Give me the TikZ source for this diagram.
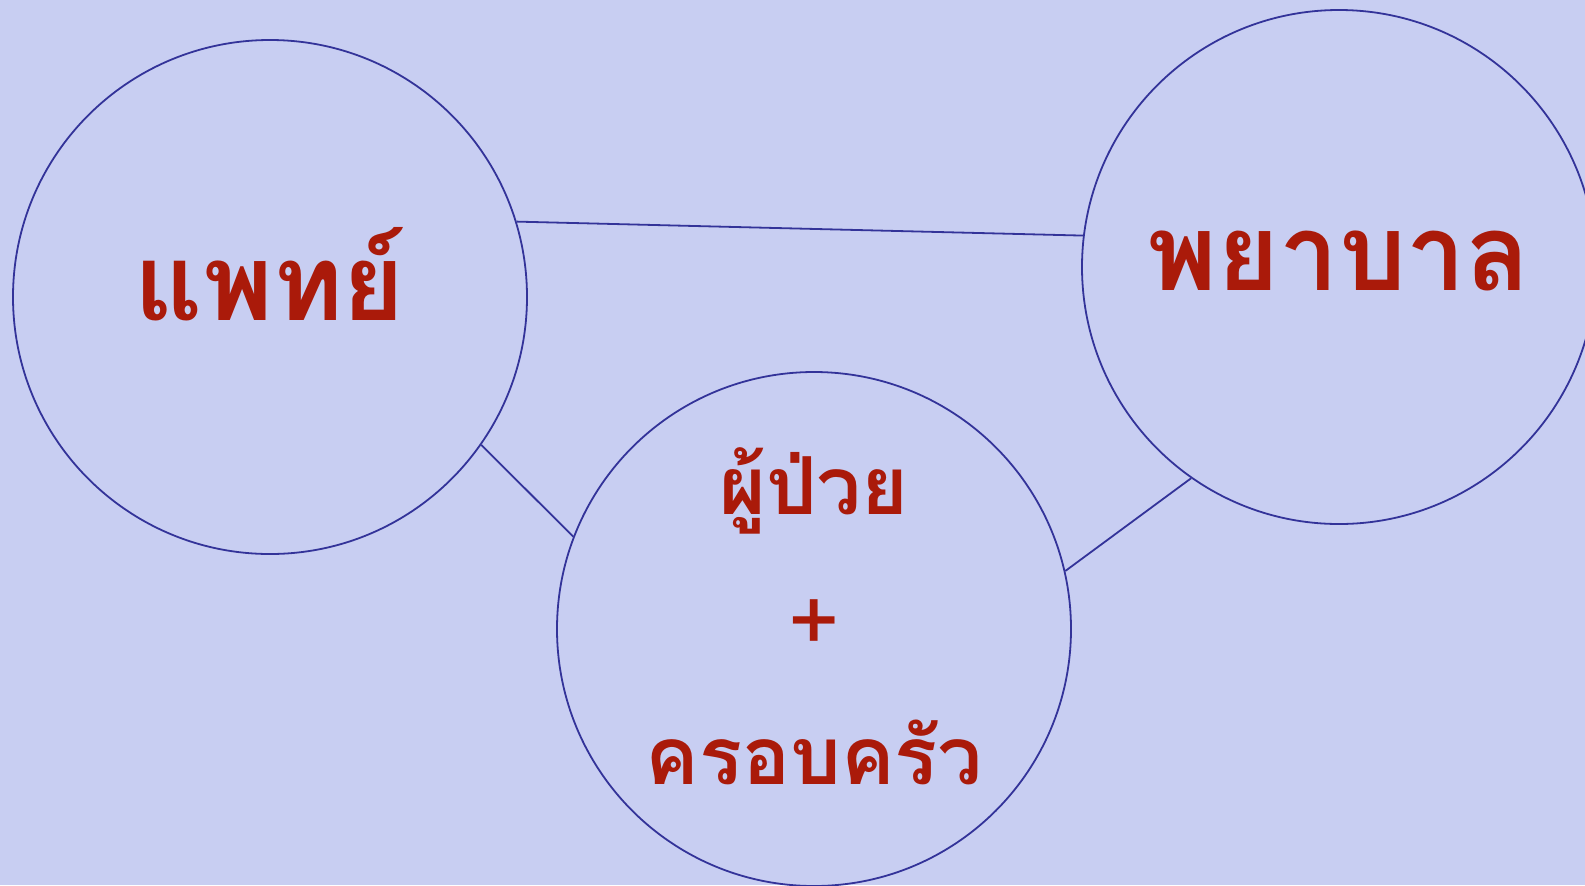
\documentclass[tikz,border=0pt]{standalone}
\usepackage{fontspec}
\newfontfamily\thaifont[Script=Thai]{Loma}
\definecolor{bgc}{HTML}{C8CEF2}
\definecolor{linec}{HTML}{333399}
\definecolor{txtc}{HTML}{AA1A0A}
\begin{document}
\begin{tikzpicture}[x=0.5pt,y=-0.5pt,
  ring/.style={circle,draw=linec,line width=0.9pt,minimum size=257pt,inner sep=0pt},
  link/.style={draw=linec,line width=0.9pt},
  bigt/.style={anchor=base,text=txtc,inner sep=0pt,font=\thaifont\bfseries\fontsize{53}{56}\selectfont},
  smallt/.style={anchor=base,text=txtc,inner sep=0pt,font=\thaifont\bfseries\fontsize{40}{44}\selectfont}]
\fill[bgc] (0,0) rectangle (1585,885);
\useasboundingbox (0,0) rectangle (1585,885);
\node[ring] (L) at (270,297) {};
\node[ring] (R) at (1339,267) {};
\node[ring] (B) at (814,629) {};
\draw[link] (L.17.4) -- (R.173.3);
\draw[link] (L.-35.6) -- (B.159.7);
\draw[link] (B.13.8) -- (R.235.8);
\node[bigt] (t1) at (270,320) {แพทย์};
\node[bigt] (t2) at (1339,290) {พยาบาล};
\node[smallt] (t3) at (814,514) {ผู้ป่วย};
\node[anchor=center,text=txtc,inner sep=0pt,font=\thaifont\fontsize{44}{48}\selectfont] (t4) at (814,626) {+};
\node[smallt] (t5) at (814,784) {ครอบครัว};
\end{tikzpicture}
\end{document}
